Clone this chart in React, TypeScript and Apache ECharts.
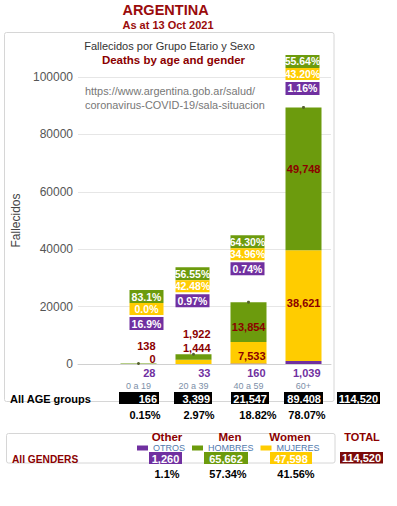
import React, { useEffect, useRef } from "react";
import * as echarts from "echarts";

// ---------- data ----------
const categories = ["0 a 19", "20 a 39", "40 a 59", "60+"];
const otros = [28, 33, 160, 1039];
const mujeres = [0, 1444, 7533, 38621];
const hombres = [138, 1922, 13854, 49748];
const pctHombres = ["83.1%", "56.55%", "64.30%", "55.64%"];
const pctMujeres = ["0.0%", "42.48%", "34.96%", "43.20%"];
const pctOtros = ["16.9%", "0.97%", "0.74%", "1.16%"];
const ageTotalLabels = ["166", "3,399", "21,547", "89.408"];
const agePctLabels = ["0.15%", "2.97%", "18.82%", "78.07%"];
const grandTotalLabel = "114,520";
const genderNames = ["Other", "Men", "Women"];
const genderLegend = ["OTROS", "HOMBRES", "MUJERES"];
const genderTotals = [1260, 65662, 47598];
const genderPctLabels = ["1.1%", "57.34%", "41.56%"];
const yMin = 0;
const yMax = 100000;
const yInterval = 20000;

// ---------- style ----------
const FONT = "Arial, 'Liberation Sans', Helvetica, sans-serif";
const C_PURPLE = "#7030A0";
const C_GREEN = "#6C9B0D";
const C_YELLOW = "#FFCC00";
const C_DARKRED = "#8B0000";
const C_TITLE = "#9A0B0B";

const fmt = (n: number) => n.toLocaleString("en-US");

// per-bar label placement (styles)
const hombresLbl = [
  { position: "top", distance: 12.5, offset: [17, 0] },
  { position: "top", distance: 15, offset: [17, 0] },
  { position: "inside", offset: [17, 5] },
  { position: "inside", offset: [17, -10] },
];
const mujeresLbl = [
  { position: "top", distance: -1, offset: [17, 0] },
  { position: "top", distance: 6, offset: [17, 0] },
  { position: "inside", offset: [17, 3] },
  { position: "inside", offset: [17, -3] },
];
const badgeLbl = [
  { distance: 32, offset: [8, 0] },
  { distance: 45.5, offset: [-1, 0] },
  { distance: 25.5, offset: [-1, 0] },
  { distance: 11, offset: [-1, 0] },
];

// table layout
const ageBoxX = [119, 174, 231, 284];
const ageBoxW = [40, 38, 38, 39];
const agePctX = [145, 199, 258, 307];
const genderBoxX = [149, 204, 270];
const genderBoxW = [33, 44, 42];
const genderHeadX = [167, 230, 290];
const genderPctX = [167, 228, 296];
const genderColors = [C_PURPLE, C_GREEN, C_YELLOW];

function txt(x: number, y: number, text: string, o: any = {}) {
  return {
    type: "text",
    x,
    y,
    z: 10,
    style: {
      text,
      fill: o.fill ?? "#000",
      fontSize: o.size ?? 11,
      fontWeight: o.weight ?? "bold",
      fontFamily: FONT,
      align: o.align ?? "center",
      verticalAlign: "middle",
    },
  };
}

function box(x: number, y: number, w: number, h: number, fill: string, text: string, align = "center") {
  return {
    type: "group",
    z: 10,
    children: [
      { type: "rect", shape: { x, y, width: w, height: h }, style: { fill } },
      {
        type: "text",
        x: align === "right" ? x + w - 2 : x + w / 2,
        y: y + h / 2 + 0.5,
        style: {
          text,
          fill: "#fff",
          fontSize: 11,
          fontWeight: "bold",
          fontFamily: FONT,
          align,
          verticalAlign: "middle",
        },
      },
    ],
  };
}

export default function App() {
  const ref = useRef<HTMLDivElement>(null);

  useEffect(() => {
    if (!ref.current) return;
    const chart = echarts.init(ref.current, null, { renderer: "svg" });
    const totals = categories.map((_, i) => otros[i] + mujeres[i] + hombres[i]);

    const labelBase = {
      show: true,
      align: "right",
      fontFamily: FONT,
      fontSize: 11,
      fontWeight: "bold",
      textBorderWidth: 0,
    };

    const graphic: any[] = [
      {
        type: "rect",
        z: -1,
        shape: { x: 4.5, y: 32.5, width: 329.5, height: 369, r: 2 },
        style: { fill: "none", stroke: "#d6d6d6", lineWidth: 1 },
      },
      {
        type: "rect",
        z: -1,
        shape: { x: 6.5, y: 433.5, width: 328.5, height: 29.5, r: 2 },
        style: { fill: "none", stroke: "#d6d6d6", lineWidth: 1 },
      },
      txt(165.5, 10, "ARGENTINA", { size: 14.5, fill: C_TITLE }),
      txt(168, 25, "As at 13 Oct 2021", { size: 11, fill: C_TITLE }),
      txt(169.5, 45.5, "Fallecidos por Grupo Etario y Sexo", { size: 11, weight: "normal", fill: "#333" }),
      txt(173.5, 60, "Deaths by age and gender", { size: 11.5, fill: C_DARKRED }),
      txt(85, 91, "https://www.argentina.gob.ar/salud/", { size: 10.9, weight: "normal", fill: "#777", align: "left" }),
      txt(85, 104.5, "coronavirus-COVID-19/sala-situacion", { size: 10.9, weight: "normal", fill: "#777", align: "left" }),
      txt(10, 399, "All AGE groups", { size: 11, align: "left" }),
      txt(12, 459, "All GENDERS", { size: 10.2, align: "left", fill: C_DARKRED }),
      txt(362, 437, "TOTAL", { size: 11, fill: C_DARKRED }),
      box(337, 392, 43, 12, "#000", grandTotalLabel, "right"),
      box(340, 452, 43, 11.5, "#7A0A0A", grandTotalLabel),
    ];
    ageTotalLabels.forEach((t, i) => {
      graphic.push(box(ageBoxX[i], 392, ageBoxW[i], 12, "#000", t, "right"));
      graphic.push(txt(agePctX[i], 415, agePctLabels[i], { size: 11 }));
    });
    genderNames.forEach((g, i) => {
      graphic.push(txt(genderHeadX[i], 436.5, g, { size: 11.5, fill: C_DARKRED }));
      graphic.push(box(genderBoxX[i], 452, genderBoxW[i], 12, genderColors[i], fmt(genderTotals[i])));
      graphic.push(txt(genderPctX[i], 474, genderPctLabels[i], { size: 11 }));
    });

    const badgeStyle = (bg: string, h: number) => ({
      backgroundColor: bg,
      color: "#fff",
      fontWeight: "bold",
      fontSize: 10.5,
      fontFamily: FONT,
      width: 34,
      height: h,
      lineHeight: h,
      align: "center",
      textBorderWidth: 0,
    });

    chart.setOption({
      animation: false,
      grid: [
        { left: 78, right: 66, top: 77, bottom: 142 },
        { left: 111, right: 66, top: 77, bottom: 142 },
      ],
      legend: {
        data: [genderLegend[0], genderLegend[1], genderLegend[2]],
        left: 137,
        top: 443.5,
        itemWidth: 11,
        itemHeight: 5,
        itemGap: 7,
        padding: 0,
        icon: "rect",
        selectedMode: false,
        textStyle: { color: "#4f79ad", fontSize: 9, fontFamily: FONT, lineHeight: 9 },
      },
      xAxis: [
        {
          gridIndex: 0,
          type: "value",
          min: 0,
          max: 1,
          axisLine: { show: true, lineStyle: { color: "#d0d0d0" } },
          axisTick: { show: false },
          axisLabel: { show: false },
          splitLine: { show: false },
        },
        {
          gridIndex: 1,
          type: "category",
          data: categories,
          axisLine: { show: false },
          axisTick: { show: false },
          axisLabel: { color: "#7d8fa8", fontSize: 9, margin: 17, fontFamily: FONT },
        },
      ],
      yAxis: [
        {
          gridIndex: 0,
          type: "value",
          min: yMin,
          max: yMax,
          interval: yInterval,
          axisLine: { show: false },
          axisTick: { show: false },
          axisLabel: {
            color: "#555",
            fontSize: 12,
            fontFamily: FONT,
            margin: 5,
            formatter: (v: number) => String(v),
          },
          splitLine: { lineStyle: { color: "#e6e6e6" } },
          name: "Fallecidos",
          nameLocation: "middle",
          nameGap: 50,
          nameTextStyle: { color: "#444", fontSize: 12, fontFamily: FONT },
        },
        { gridIndex: 1, type: "value", min: yMin, max: yMax, show: false },
      ],
      series: [
        {
          name: genderLegend[0],
          type: "bar",
          stack: "total",
          xAxisIndex: 1,
          yAxisIndex: 1,
          barWidth: 36,
          itemStyle: { color: C_PURPLE },
          label: {
            ...labelBase,
            color: C_PURPLE,
            position: "bottom",
            distance: 3.5,
            offset: [17, 0],
            formatter: (p: any) => fmt(p.value),
          },
          data: otros,
        },
        {
          name: genderLegend[2],
          type: "bar",
          stack: "total",
          xAxisIndex: 1,
          yAxisIndex: 1,
          barWidth: 36,
          itemStyle: { color: C_YELLOW },
          label: { ...labelBase, color: C_DARKRED, formatter: (p: any) => fmt(p.value) },
          data: mujeres.map((v, i) => ({ value: v, label: mujeresLbl[i] })),
        },
        {
          name: genderLegend[1],
          type: "bar",
          stack: "total",
          xAxisIndex: 1,
          yAxisIndex: 1,
          barWidth: 36,
          itemStyle: { color: C_GREEN },
          label: { ...labelBase, color: C_DARKRED, formatter: (p: any) => fmt(p.value) },
          data: hombres.map((v, i) => ({ value: v, label: hombresLbl[i] })),
        },
        {
          name: "total",
          type: "scatter",
          xAxisIndex: 1,
          yAxisIndex: 1,
          symbol: "circle",
          symbolSize: 3,
          itemStyle: { color: "#55622f", opacity: 1 },
          z: 5,
          label: {
            show: true,
            position: "top",
            formatter: (p: any) =>
              `{g|${pctHombres[p.dataIndex]}}\n{y|${pctMujeres[p.dataIndex]}}\n{s| }\n{p|${pctOtros[p.dataIndex]}}`,
            rich: {
              g: badgeStyle(C_GREEN, 13),
              y: badgeStyle(C_YELLOW, 12),
              s: { fontSize: 1, height: 2, lineHeight: 2, width: 34 },
              p: badgeStyle(C_PURPLE, 13),
            },
          },
          data: totals.map((v, i) => ({ value: v, label: badgeLbl[i] })),
        },
      ],
      graphic,
    });
    return () => chart.dispose();
  }, []);

  return (
    <div
      ref={ref}
      style={{ position: "absolute", left: 0, top: 0, width: 397, height: 506, background: "#fff" }}
    />
  );
}
